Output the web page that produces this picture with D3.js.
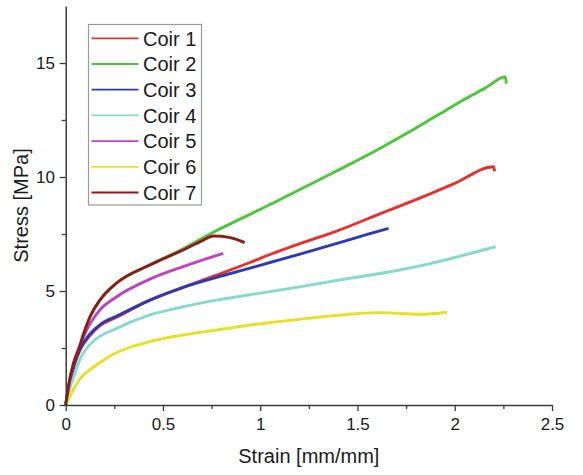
<!DOCTYPE html>
<html>
<head>
<meta charset="utf-8">
<script src="https://cdn.jsdelivr.net/npm/d3@7/dist/d3.min.js"></script>
<style>
  body { margin: 0; background: #fff; }
  text { font-family: "Liberation Sans", Arial, sans-serif; fill: #1a1a1a; }
</style>
</head>
<body>
<svg id="chart" width="583" height="475"></svg>
<script>
// sample names and colours
const categories = ['Coir 1', 'Coir 2', 'Coir 3', 'Coir 4', 'Coir 5', 'Coir 6', 'Coir 7'];
const colors = ['#e8302c', '#4cc63c', '#2b3cb2', '#86dacd', '#c042c0', '#e9df25', '#8a1c1c'];

// [strain, stress]
const coir1 = [[0, 0], [0.02, 0.9], [0.05, 1.9], [0.073, 2.4], [0.125, 3.05], [0.18, 3.5], [0.262, 3.85],
  [0.433, 4.6], [0.604, 5.16], [0.776, 5.7], [0.947, 6.25], [1.05, 6.6], [1.204, 7.08], [1.39, 7.62],
  [1.6, 8.33], [1.82, 9.07], [2.0, 9.72], [2.2, 10.45], [2.205, 10.25]];
const coir2 = [[0, 0], [0.02, 1.1], [0.04, 1.85], [0.07, 2.55], [0.09, 3.1], [0.125, 3.87], [0.176, 4.6],
  [0.262, 5.35], [0.433, 6.15], [0.604, 6.85], [0.742, 7.5], [0.947, 8.36], [1.1, 9.0],
  [1.39, 10.25], [1.615, 11.25], [1.72, 11.75], [1.9, 12.65], [2.06, 13.45], [2.16, 13.92],
  [2.26, 14.4], [2.265, 14.1]];
const coir3 = [[0, 0], [0.02, 0.95], [0.05, 1.95], [0.073, 2.45], [0.125, 3.12], [0.18, 3.55], [0.262, 3.9],
  [0.433, 4.6], [0.604, 5.16], [0.776, 5.6], [0.947, 6.0], [1.05, 6.25], [1.204, 6.62], [1.39, 7.08],
  [1.55, 7.48], [1.66, 7.75]];
const coir4 = [[0, 0], [0.02, 0.7], [0.04, 1.2], [0.073, 2.0], [0.1, 2.4], [0.15, 2.85], [0.262, 3.36],
  [0.433, 3.95], [0.604, 4.31], [0.776, 4.6], [1.05, 4.97], [1.204, 5.18], [1.39, 5.46], [1.718, 5.92],
  [1.82, 6.1], [2.21, 6.94]];
const coir5 = [[0, 0], [0.02, 1.0], [0.04, 1.8], [0.07, 2.55], [0.1, 3.15], [0.176, 4.17], [0.262, 4.75],
  [0.433, 5.52], [0.604, 6.07], [0.81, 6.65]];
const coir6 = [[0, 0], [0.02, 0.35], [0.05, 0.85], [0.09, 1.3], [0.133, 1.6], [0.2, 2.0], [0.262, 2.3],
  [0.433, 2.78], [0.604, 3.07], [0.776, 3.29], [1.05, 3.62], [1.204, 3.76], [1.39, 3.93], [1.615, 4.05],
  [1.82, 3.98], [1.96, 4.07]];
const coir7 = [[0, 0], [0.02, 1.1], [0.04, 1.8], [0.07, 2.5], [0.09, 3.05], [0.125, 3.87], [0.176, 4.6],
  [0.262, 5.35], [0.433, 6.14], [0.604, 6.8], [0.7, 7.2], [0.76, 7.41], [0.84, 7.35], [0.92, 7.12]];
const series = [coir1, coir2, coir3, coir4, coir5, coir6, coir7];

const xTicks = [0, 0.5, 1, 1.5, 2, 2.5];
const xMinor = [0.25, 0.75, 1.25, 1.75, 2.25];
const yTicks = [0, 5, 10, 15];
const yMinor = [2.5, 7.5, 12.5];

const svg = d3.select('#chart');

const x = d3.scaleLinear().domain([0, 2.5]).range([65.7, 552]);
const y = d3.scaleLinear().domain([0, 17.5]).range([405, 6]);

// curves
const line = d3.line()
  .x((d) => x(d[0]))
  .y((d) => y(d[1]))
  .curve(d3.curveMonotoneX);

svg.append('g')
  .selectAll('path')
  .data(series)
  .enter()
  .append('path')
  .attr('d', line)
  .attr('fill', 'none')
  .attr('stroke', (d, i) => colors[i])
  .attr('stroke-width', 2.9)
  .attr('stroke-linejoin', 'round');

// axes
const axisColor = '#3a3a3a';
const xAxis = svg.append('g').attr('transform', `translate(0,${y(0)})`);
xAxis.call(d3.axisBottom(x).tickValues(xTicks).tickSize(6).tickSizeOuter(0)
  .tickFormat((d) => String(d)));
xAxis.append('g').call(d3.axisBottom(x).tickValues(xMinor).tickSize(4).tickFormat(''))
  .select('.domain').remove();

const yAxis = svg.append('g').attr('transform', `translate(${x(0)},0)`);
yAxis.call(d3.axisLeft(y).tickValues(yTicks).tickSize(6).tickSizeOuter(0));
yAxis.append('g').call(d3.axisLeft(y).tickValues(yMinor).tickSize(4).tickFormat(''))
  .select('.domain').remove();

svg.selectAll('.domain').attr('stroke', axisColor).attr('stroke-width', 1.5);
svg.selectAll('.tick line').attr('stroke', axisColor).attr('stroke-width', 1.3);
svg.selectAll('.tick text')
  .style('font-family', '"Liberation Sans", Arial, sans-serif')
  .style('font-size', '17px')
  .attr('fill', '#1a1a1a');
xAxis.selectAll('.tick text').attr('dy', '0.95em');
yAxis.selectAll('.tick text').attr('dx', '-0.1em');

// axis titles
svg.append('text')
  .attr('x', (x(0) + x(2.5)) / 2)
  .attr('y', 463)
  .attr('text-anchor', 'middle')
  .style('font-size', '20px')
  .text('Strain [mm/mm]');

svg.append('text')
  .attr('transform', `translate(28,${(y(0) + y(17.5)) / 2}) rotate(-90)`)
  .attr('text-anchor', 'middle')
  .style('font-size', '20px')
  .text('Stress [MPa]');

// legend
const legend = svg.append('g');
legend.append('rect')
  .attr('x', 88.5)
  .attr('y', 24.5)
  .attr('width', 113)
  .attr('height', 180.5)
  .attr('fill', '#fff')
  .attr('stroke', '#9a9a9a')
  .attr('stroke-width', 1.2);

const rows = legend.selectAll('g.row')
  .data(categories)
  .enter()
  .append('g')
  .attr('class', 'row')
  .attr('transform', (d, i) => `translate(0,${38.3 + i * 25.7})`);

rows.append('line')
  .attr('x1', 91.5)
  .attr('x2', 138.5)
  .attr('stroke', (d, i) => colors[i])
  .attr('stroke-width', 1.8);

rows.append('text')
  .attr('x', 143)
  .attr('dy', '0.36em')
  .style('font-size', '20px')
  .text((d) => d);
</script>
</body>
</html>
